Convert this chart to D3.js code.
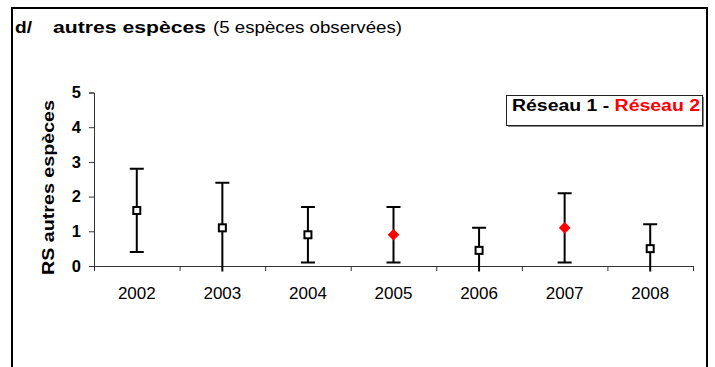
<!DOCTYPE html>
<html>
<head>
<meta charset="utf-8">
<script src="https://cdn.jsdelivr.net/npm/d3@7"></script>
<style>
  html, body { margin: 0; padding: 0; background: #fff; }
  svg { display: block; font-family: "Liberation Sans", Arial, sans-serif; }
</style>
</head>
<body>
<svg id="chart" width="715" height="367"></svg>
<script>
// Years surveyed, mean RS per year and its standard deviation
const years = ["2002", "2003", "2004", "2005", "2006", "2007", "2008"];
const means = [1.6, 1.1, 0.9, 0.9, 0.45, 1.1, 0.5];
const sds   = [1.2, 1.3, 0.8, 0.8, 0.65, 1.0, 0.7];
// Which network sampled each year (1 = open square, 2 = red diamond)
const network = [1, 1, 1, 2, 1, 2, 1];
const yTicks = [0, 1, 2, 3, 4, 5];

const svg = d3.select("#chart");
const FONT = "'Liberation Sans', Arial, sans-serif";

// Outer frame (open at the bottom edge of the window)
svg.append("path")
  .attr("d", "M12,370 V8 H707 V370")
  .attr("fill", "none").attr("stroke", "#000").attr("stroke-width", 2);

// Title
const title = svg.append("g");
title.append("text").attr("x", 15).attr("y", 33)
  .attr("font-size", 17).attr("font-weight", "bold")
  .attr("textLength", 17).attr("lengthAdjust", "spacingAndGlyphs")
  .text("d/");
title.append("text").attr("x", 53).attr("y", 33)
  .attr("font-size", 17).attr("font-weight", "bold")
  .attr("textLength", 153).attr("lengthAdjust", "spacingAndGlyphs")
  .text("autres espèces");
title.append("text").attr("x", 213).attr("y", 33)
  .attr("font-size", 16.5)
  .attr("textLength", 189).attr("lengthAdjust", "spacingAndGlyphs")
  .text("(5 espèces observées)");

// Scales
const x = d3.scaleBand().domain(years).range([94, 693]);
const xEdges = d3.scaleLinear().domain([0, years.length]).range([94, 693]);
const y = d3.scaleLinear().domain([0, 5]).range([266, 92.5]);

// Y axis
const yAxis = svg.append("g").attr("transform", "translate(94,0)")
  .call(d3.axisLeft(y).tickValues(yTicks).tickSize(5).tickPadding(8).tickFormat(d3.format("d")));
yAxis.select(".domain").attr("stroke", "#333").attr("stroke-width", 1);
yAxis.selectAll(".tick line").attr("stroke", "#333");
yAxis.selectAll("text").attr("font-size", 16.5).attr("font-weight", "bold")
  .attr("fill", "#000").attr("font-family", FONT);

// X axis: tick marks between categories, labels centred on each year
const xTicksG = svg.append("g").attr("transform", "translate(0,266)")
  .call(d3.axisBottom(xEdges).tickValues(d3.range(years.length + 1)).tickSize(5).tickSizeOuter(0).tickFormat(""));
xTicksG.select(".domain").attr("stroke", "#333").attr("stroke-width", 1);
xTicksG.selectAll(".tick line").attr("stroke", "#333");

const xLabels = svg.append("g").attr("transform", "translate(0,266)")
  .call(d3.axisBottom(x).tickSize(0).tickPadding(21));
xLabels.select(".domain").remove();
xLabels.selectAll("text").attr("font-size", 17).attr("fill", "#000")
  .attr("font-family", FONT);

// Y axis title
svg.append("text")
  .attr("transform", "translate(54,187.5) rotate(-90)")
  .attr("text-anchor", "middle")
  .attr("font-size", 16.5).attr("font-weight", "bold")
  .attr("textLength", 175).attr("lengthAdjust", "spacingAndGlyphs")
  .text("RS autres espèces");

// Error bars clipped to the plot area
svg.append("clipPath").attr("id", "plotClip")
  .append("rect").attr("x", 94).attr("y", 60).attr("width", 600).attr("height", 271.5 - 60);

const data = years.map((yr, i) => ({ yr, m: means[i], sd: sds[i], net: network[i] }));
const cx = d => x(d.yr) + x.bandwidth() / 2;
const bars = svg.append("g").attr("clip-path", "url(#plotClip)");
const cap = 7;

bars.selectAll("line.whisker").data(data).join("line")
  .attr("class", "whisker")
  .attr("x1", cx).attr("x2", cx)
  .attr("y1", d => y(d.m + d.sd))
  .attr("y2", d => y(d.m - d.sd))
  .attr("stroke", "#000").attr("stroke-width", 2);

bars.selectAll("line.capTop").data(data).join("line")
  .attr("class", "capTop")
  .attr("x1", d => cx(d) - cap).attr("x2", d => cx(d) + cap)
  .attr("y1", d => y(d.m + d.sd)).attr("y2", d => y(d.m + d.sd))
  .attr("stroke", "#000").attr("stroke-width", 2);

bars.selectAll("line.capBottom").data(data.filter(d => d.m - d.sd >= 0)).join("line")
  .attr("class", "capBottom")
  .attr("x1", d => cx(d) - cap).attr("x2", d => cx(d) + cap)
  .attr("y1", d => y(d.m - d.sd)).attr("y2", d => y(d.m - d.sd))
  .attr("stroke", "#000").attr("stroke-width", 2);

// Markers
const marks = svg.append("g");
marks.selectAll("rect").data(data.filter(d => d.net === 1)).join("rect")
  .attr("x", d => cx(d) - 3.5)
  .attr("y", d => y(d.m) - 3.5)
  .attr("width", 7).attr("height", 7)
  .attr("fill", "#fff").attr("stroke", "#000").attr("stroke-width", 2);

marks.selectAll("path").data(data.filter(d => d.net === 2)).join("path")
  .attr("transform", d => `translate(${cx(d)},${y(d.m)}) rotate(45)`)
  .attr("d", d3.symbol().type(d3.symbolSquare).size(68))
  .attr("fill", "#ff0000");

// Network legend
const leg = svg.append("g");
leg.append("rect").attr("x", 508).attr("y", 97).attr("width", 196).attr("height", 30).attr("fill", "#888");
leg.append("rect").attr("x", 506.5).attr("y", 95.5).attr("width", 196).attr("height", 30)
  .attr("fill", "#fff").attr("stroke", "#222").attr("stroke-width", 1);
const legText = leg.append("text").attr("x", 512).attr("y", 111)
  .attr("font-size", 16).attr("font-weight", "bold")
  .attr("textLength", 188).attr("lengthAdjust", "spacingAndGlyphs");
legText.append("tspan").attr("fill", "#000").text("Réseau 1 - ");
legText.append("tspan").attr("fill", "#ff0000").text("Réseau 2");
</script>
</body>
</html>
